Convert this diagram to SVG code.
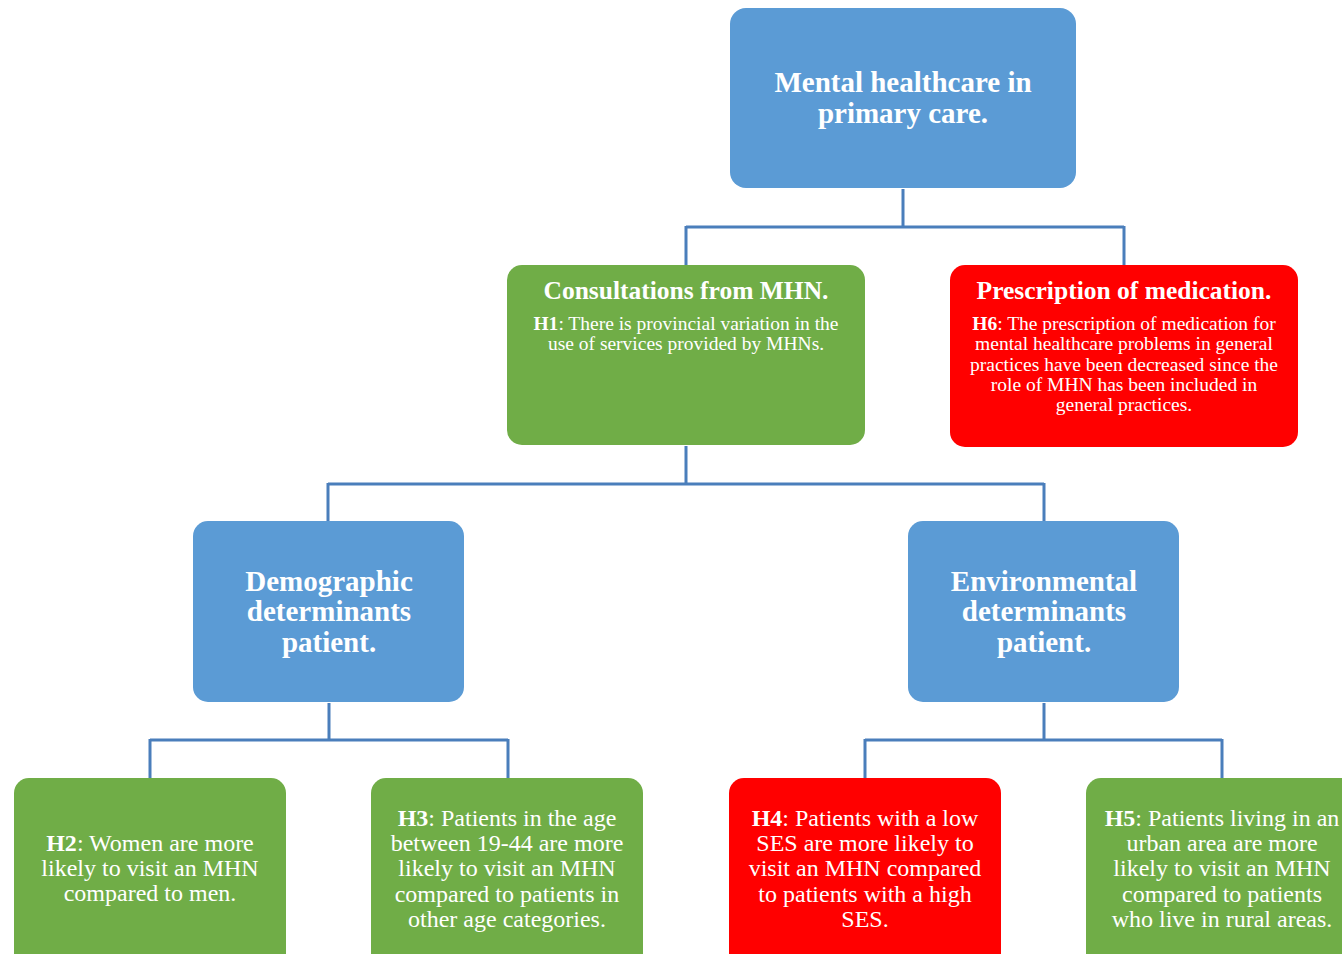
<svg xmlns="http://www.w3.org/2000/svg" width="1342" height="954" viewBox="0 0 1342 954">
<style>
.blue{fill:#5B9BD5}
.green{fill:#70AD47}
.red{fill:#FF0000}
.conn{fill:none;stroke:#4A7EBB;stroke-width:3}
text{font-family:'Liberation Serif','Times New Roman','DejaVu Serif',serif;fill:#ffffff;text-anchor:middle}
.t1{font-size:29px;font-weight:bold}
.t2{font-size:25.5px;font-weight:bold}
.t3{font-size:19.5px}
.t4{font-size:29px;font-weight:bold}
.t5{font-size:24px}
.b{font-weight:bold}
</style>
<rect width="1342" height="954" fill="#ffffff"/>
<g id="connectors">
<path class="conn" d="M903,189 V227 M686,227 H1124 M686,226 V265 M1124,226 V265"/>
<path class="conn" d="M686,446 V484 M328,484 H1044 M328,483 V521 M1044,483 V521"/>
<path class="conn" d="M329,703 V740 M150,740 H508 M150,739 V778 M508,739 V778"/>
<path class="conn" d="M1044,703 V740 M865,740 H1222 M865,739 V778 M1222,739 V778"/>
</g>
<g id="root">
<rect class="blue" x="730" y="8" width="346" height="180" rx="16"/>
<text class="t1" x="903" y="92">Mental healthcare in</text>
<text class="t1" x="903" y="123">primary care.</text>
</g>
<g id="consultations">
<rect class="green" x="507" y="265" width="358" height="180" rx="15"/>
<text class="t2" x="686" y="299">Consultations from MHN.</text>
<text class="t3" x="686" y="330"><tspan class="b">H1</tspan>: There is provincial variation in the</text>
<text class="t3" x="686" y="350">use of services provided by MHNs.</text>
</g>
<g id="prescription">
<rect class="red" x="950" y="265" width="348" height="182" rx="15"/>
<text class="t2" x="1124" y="299">Prescription of medication.</text>
<text class="t3" x="1124" y="330"><tspan class="b">H6</tspan>: The prescription of medication for</text>
<text class="t3" x="1124" y="350">mental healthcare problems in general</text>
<text class="t3" x="1124" y="371">practices have been decreased since the</text>
<text class="t3" x="1124" y="391">role of MHN has been included in</text>
<text class="t3" x="1124" y="411">general practices.</text>
</g>
<g id="demographic">
<rect class="blue" x="193" y="521" width="271" height="181" rx="15"/>
<text class="t4" x="329" y="591">Demographic</text>
<text class="t4" x="329" y="621">determinants</text>
<text class="t4" x="329" y="652">patient.</text>
</g>
<g id="environmental">
<rect class="blue" x="908" y="521" width="271" height="181" rx="15"/>
<text class="t4" x="1044" y="591">Environmental</text>
<text class="t4" x="1044" y="621">determinants</text>
<text class="t4" x="1044" y="652">patient.</text>
</g>
<g id="h2">
<rect class="green" x="14" y="778" width="272" height="200" rx="15"/>
<text class="t5" x="150" y="851"><tspan class="b">H2</tspan>: Women are more</text>
<text class="t5" x="150" y="876">likely to visit an MHN</text>
<text class="t5" x="150" y="901">compared to men.</text>
</g>
<g id="h3">
<rect class="green" x="371" y="778" width="272" height="200" rx="15"/>
<text class="t5" x="507" y="826"><tspan class="b">H3</tspan>: Patients in the age</text>
<text class="t5" x="507" y="851">between 19-44 are more</text>
<text class="t5" x="507" y="876">likely to visit an MHN</text>
<text class="t5" x="507" y="902">compared to patients in</text>
<text class="t5" x="507" y="927">other age categories.</text>
</g>
<g id="h4">
<rect class="red" x="729" y="778" width="272" height="200" rx="15"/>
<text class="t5" x="865" y="826"><tspan class="b">H4</tspan>: Patients with a low</text>
<text class="t5" x="865" y="851">SES are more likely to</text>
<text class="t5" x="865" y="876">visit an MHN compared</text>
<text class="t5" x="865" y="902">to patients with a high</text>
<text class="t5" x="865" y="927">SES.</text>
</g>
<g id="h5">
<rect class="green" x="1086" y="778" width="272" height="200" rx="15"/>
<text class="t5" x="1222" y="826"><tspan class="b">H5</tspan>: Patients living in an</text>
<text class="t5" x="1222" y="851">urban area are more</text>
<text class="t5" x="1222" y="876">likely to visit an MHN</text>
<text class="t5" x="1222" y="902">compared to patients</text>
<text class="t5" x="1222" y="927">who live in rural areas.</text>
</g>
</svg>
